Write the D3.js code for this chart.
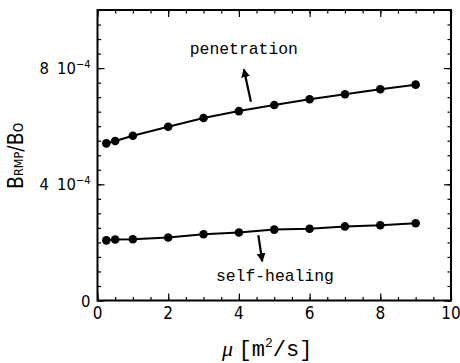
<!DOCTYPE html>
<html>
<head>
<meta charset="utf-8">
<script src="https://cdn.jsdelivr.net/npm/d3@7"></script>
<style>
  body { margin: 0; background: #fff; }
  .lab { font-family: "Liberation Sans Narrow", "DejaVu Sans Condensed", "Liberation Sans", sans-serif; fill: #000; }
  .mono { font-family: "Liberation Mono", "DejaVu Sans Mono", monospace; fill: #000; }
</style>
</head>
<body>
<div id="chart"></div>
<script>
// datos
const mu = [0.25, 0.5, 1, 2, 3, 4, 5, 6, 7, 8, 9];
const penetration = [5.41, 5.49, 5.67, 5.98, 6.28, 6.52, 6.73, 6.93, 7.10, 7.27, 7.43]; // x 1e-4
const selfHealing = [2.07, 2.10, 2.11, 2.17, 2.28, 2.34, 2.44, 2.47, 2.55, 2.59, 2.66];  // x 1e-4
const xTicks = [0, 2, 4, 6, 8, 10];
const yTicks = [0, 4, 8];
const yTickExp = ['', '-4', '-4'];

const width = 460, height = 363;
const margin = { top: 10, right: 9, bottom: 62.5, left: 97.5 };

const svg = d3.select('#chart').append('svg')
  .attr('width', width)
  .attr('height', height);

const x = d3.scaleLinear().domain([0, 10]).range([margin.left, width - margin.right]);
const y = d3.scaleLinear().domain([0, 10]).range([height - margin.bottom, margin.top]);

const minorX = d3.range(0, 10.01, 0.5);
const minorY = d3.range(0, 10.01, 0.5);

// ejes: ticks hacia adentro, menores y mayores
function axes(g, axisFn, scale, minor, major, tr) {
  g.append('g').attr('transform', tr)
    .call(axisFn(scale).tickValues(minor).tickSize(-3.5).tickFormat(''))
    .call(s => s.select('.domain').remove());
  g.append('g').attr('transform', tr)
    .call(axisFn(scale).tickValues(major).tickSize(-7).tickFormat(''))
    .call(s => s.select('.domain').remove());
}
const ax = svg.append('g').attr('stroke-width', 1.2);
axes(ax, d3.axisBottom, x, minorX, xTicks, `translate(0,${y(0)})`);
axes(ax, d3.axisTop, x, minorX, xTicks, `translate(0,${y(10)})`);
axes(ax, d3.axisLeft, y, minorY, yTicks, `translate(${x(0)},0)`);
axes(ax, d3.axisRight, y, minorY, yTicks, `translate(${x(10)},0)`);
ax.selectAll('line').attr('stroke', '#000');

svg.append('rect')
  .attr('x', x(0)).attr('y', y(10))
  .attr('width', x(10) - x(0)).attr('height', y(0) - y(10))
  .attr('fill', 'none').attr('stroke', '#000').attr('stroke-width', 2);

// etiquetas del eje X
svg.selectAll('.xl').data(xTicks).enter().append('text')
  .attr('class', 'lab')
  .attr('x', d => x(d)).attr('y', y(0) + 18)
  .attr('text-anchor', 'middle').attr('font-size', 17)
  .text(d => d);

// etiquetas del eje Y
const yl = svg.selectAll('.yl').data(yTicks).enter().append('text')
  .attr('class', 'lab')
  .attr('x', x(0) - 7).attr('y', d => y(d) + 6)
  .attr('text-anchor', 'end').attr('font-size', 16.5);
yl.append('tspan').text(d => d);
yl.filter((d, i) => yTickExp[i]).append('tspan')
  .attr('dx', 8).text('10');
yl.filter((d, i) => yTickExp[i]).append('tspan')
  .attr('dy', -6).attr('font-size', 11)
  .text(d => yTickExp[yTicks.indexOf(d)].replace('-', '\u2212'));

// lineas y puntos
const line = d3.line().x((d, i) => x(mu[i])).y(d => y(d));
[penetration, selfHealing].forEach(series => {
  svg.append('path').datum(series)
    .attr('d', line).attr('fill', 'none')
    .attr('stroke', '#000').attr('stroke-width', 2);
  svg.selectAll(null).data(series).enter().append('circle')
    .attr('cx', (d, i) => x(mu[i])).attr('cy', d => y(d))
    .attr('r', 4.3).attr('fill', '#000');
});

// flechas y anotaciones
svg.append('defs').append('marker')
  .attr('id', 'arrow').attr('viewBox', '0 0 10 10')
  .attr('refX', 9).attr('refY', 5)
  .attr('markerWidth', 4).attr('markerHeight', 4)
  .attr('orient', 'auto')
  .append('path').attr('d', 'M0,0 L10,5 L0,10 z').attr('fill', '#000');

const arrows = [
  { from: [4.34, 6.84], to: [4.14, 7.96] },
  { from: [4.55, 2.25], to: [4.66, 1.35] }
];
svg.selectAll('.arrow').data(arrows).enter().append('line')
  .attr('x1', d => x(d.from[0])).attr('y1', d => y(d.from[1]))
  .attr('x2', d => x(d.to[0])).attr('y2', d => y(d.to[1]))
  .attr('stroke', '#000').attr('stroke-width', 2.2)
  .attr('marker-end', 'url(#arrow)');

const notes = [
  { text: 'penetration', x: 4.14, y: 8.5 },
  { text: 'self-healing', x: 5.02, y: 0.67 }
];
svg.selectAll('.note').data(notes).enter().append('text')
  .attr('class', 'mono')
  .attr('x', d => x(d.x)).attr('y', d => y(d.y))
  .attr('text-anchor', 'middle').attr('font-size', 16.4)
  .text(d => d.text);

// titulo eje X
const xt = svg.append('text')
  .attr('x', x(4.8)).attr('y', 356)
  .attr('text-anchor', 'middle').attr('font-size', 22);
xt.append('tspan').attr('font-family', 'Liberation Serif, serif').attr('font-style', 'italic').text('\u03bc ');
xt.append('tspan').attr('class', 'mono').text('[m');
xt.append('tspan').attr('class', 'mono').attr('font-size', 13).attr('dy', -9).text('2');
xt.append('tspan').attr('class', 'mono').attr('dy', 9).text('/s]');

// titulo eje Y
const ytl = svg.append('text')
  .attr('class', 'lab')
  .attr('transform', `translate(23,${y(4.98)}) rotate(-90)`)
  .attr('text-anchor', 'middle').attr('font-size', 21);
ytl.append('tspan').text('B');
ytl.append('tspan').attr('font-size', 12.5).text('RMP');
ytl.append('tspan').text('/B');
ytl.append('tspan').attr('font-size', 13.5).text('O');
</script>
</body>
</html>
